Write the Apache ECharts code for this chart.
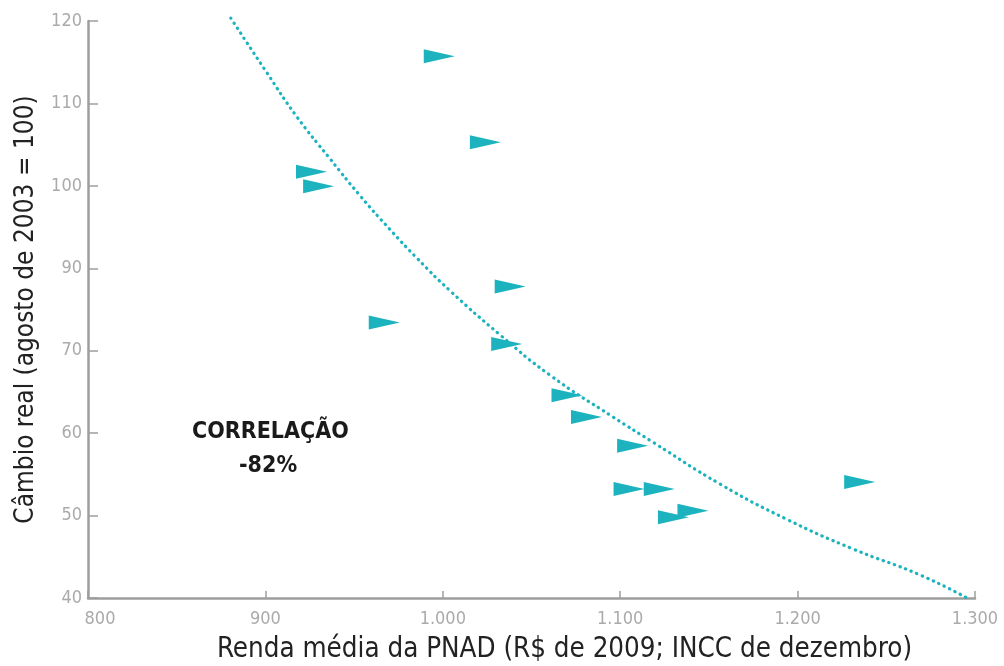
<!DOCTYPE html>
<html>
<head>
<meta charset="utf-8">
<script src="https://cdn.jsdelivr.net/npm/echarts@6/dist/echarts.min.js"></script>
<style>
html,body{margin:0;padding:0;background:#fff;}
#chart{width:1004px;height:666px;}
</style>
</head>
<body>
<div id="chart"></div>
<script>
// ---- data ----
var renda = [998, 1024, 926, 930, 1038, 967, 1036, 1070, 1081, 1107, 1105, 1122, 1130, 1141, 1235];
var cambio = [115.1, 103.2, 99.1, 97.1, 83.2, 78.2, 75.2, 68.1, 65.1, 61.1, 55.1, 55.1, 51.2, 52.1, 56.1];
var curveX = [880.5, 900.9, 917.8, 936.4, 953.3, 970.2, 985.5, 1004.1, 1032.2, 1060.4, 1095.9, 1118.5, 1156.3, 1194.0, 1231.2, 1269.0, 1295.5];
var curveY = [120.4, 112.8, 106.7, 100.9, 95.8, 91.1, 87.1, 82.6, 76.5, 70.9, 65.1, 61.6, 55.8, 50.9, 46.8, 43.2, 40.0];
var xTickLabels = ['800', '900', '1.000', '1.100', '1.200', '1.300'];
var yTickLabels = ['40', '50', '60', '70', '90', '100', '110', '120'];
var xName = 'Renda média da PNAD (R$ de 2009; INCC de dezembro)';
var yName = 'Câmbio real (agosto de 2003 = 100)';
var noteLines = ['CORRELAÇÃO', '-82%'];

// ---- build ----
var FONT = '"DejaVu Sans Condensed", "DejaVu Sans", sans-serif';
var TEAL = '#1cb3be';
var AXIS = '#9e9e9e';
var yMin = 40, yMax = 120;
var yTickValues = yTickLabels.map(function (_, i) { return yMin + i * (yMax - yMin) / (yTickLabels.length - 1); });
var xMin = 800, xStep = 100;
var points = renda.map(function (x, i) { return [x, cambio[i]]; });
var curve = curveX.map(function (x, i) { return [x, curveY[i]]; });

var chart = echarts.init(document.getElementById('chart'), null, {renderer: 'canvas'});
chart.setOption({
  animation: false,
  backgroundColor: '#fff',
  grid: {left: 88, right: 29, top: 21, bottom: 68, containLabel: false, outerBoundsMode: 'none'},
  xAxis: {
    type: 'value', min: xMin, max: 1300, interval: xStep,
    name: xName, nameLocation: 'middle', nameGap: 38,
    nameTextStyle: {fontFamily: FONT, fontSize: 27.5, color: '#222', padding: [0, 0, 0, 66]},
    axisLine: {show: true, lineStyle: {color: AXIS, width: 2.5}},
    axisTick: {show: true, inside: true, length: 7, lineStyle: {color: AXIS, width: 1.5}},
    axisLabel: {
      fontFamily: FONT, fontSize: 18, color: '#aaaaaa', margin: 12,
      formatter: function (v) {
        var i = Math.round((v - xMin) / xStep);
        return i === 0 ? '{first|' + xTickLabels[i] + '}' : xTickLabels[i];
      },
      rich: {first: {fontFamily: FONT, fontSize: 18, color: '#aaaaaa', padding: [0, 0, 0, 24]}}
    },
    splitLine: {show: false}
  },
  yAxis: {
    type: 'value', min: yMin, max: yMax,
    name: yName, nameLocation: 'middle', nameGap: 49, nameRotate: 90,
    nameTextStyle: {fontFamily: FONT, fontSize: 26, color: '#222'},
    axisLine: {show: true, lineStyle: {color: AXIS, width: 2.5}},
    axisTick: {show: true, inside: true, length: 10, customValues: yTickValues, lineStyle: {color: AXIS, width: 1.5}},
    axisLabel: {
      fontFamily: FONT, fontSize: 18, color: '#aaaaaa', margin: 6,
      customValues: yTickValues,
      formatter: function (v) {
        var best = 0;
        for (var i = 0; i < yTickValues.length; i++) {
          if (Math.abs(yTickValues[i] - v) < Math.abs(yTickValues[best] - v)) best = i;
        }
        return yTickLabels[best];
      }
    },
    splitLine: {show: false}
  },
  series: [
    {
      type: 'line', data: curve, showSymbol: false, smooth: 0.5, silent: true, z: 3, clip: false,
      lineStyle: {color: TEAL, width: 3.2, type: [0.4, 5.6], cap: 'round'}
    },
    {
      type: 'scatter', data: points, z: 2,
      symbol: 'path://M0,0L10,4.5L0,9Z', symbolSize: [31, 14],
      itemStyle: {color: TEAL, opacity: 1}
    }
  ],
  graphic: [
    {type: 'text', left: 272 - 80, top: 421, style: {text: noteLines[0], font: 'bold 23px ' + FONT, fill: '#1a1a1a'}},
    {type: 'text', left: 272 - 33, top: 455, style: {text: noteLines[1], font: 'bold 23px ' + FONT, fill: '#1a1a1a'}}
  ]
});
</script>
</body>
</html>
